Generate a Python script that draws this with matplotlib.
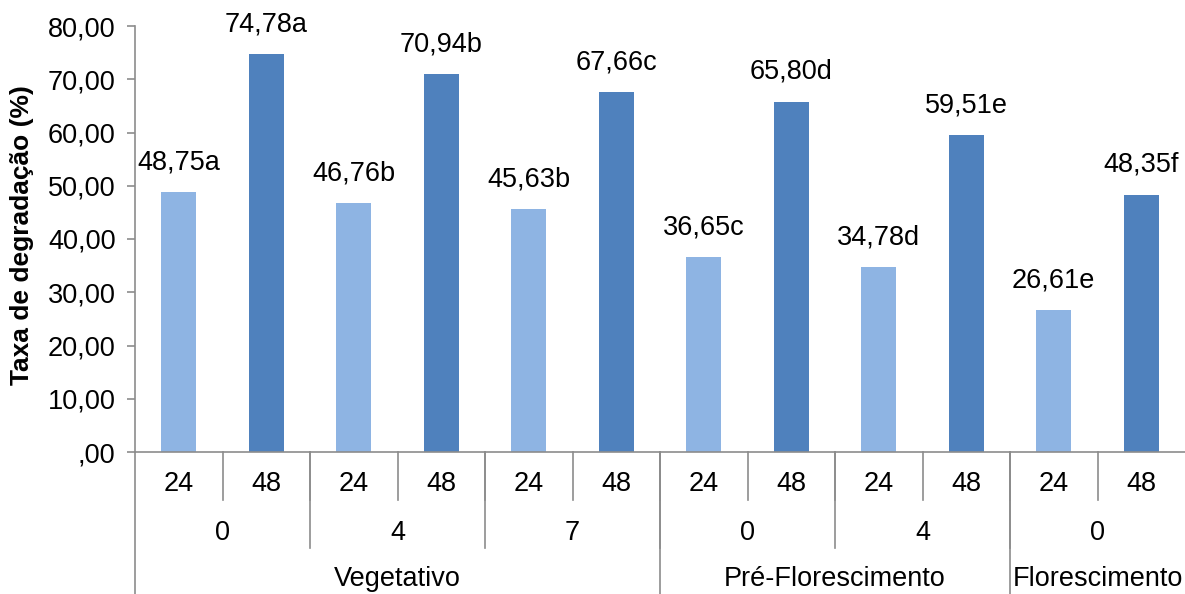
import matplotlib.pyplot as plt
import matplotlib.transforms as mtransforms

plt.rcParams['font.family'] = ['Liberation Sans', 'DejaVu Sans']

# degradation rate (%) by stage / cutting day / incubation hours
estadios = ['Vegetativo', 'Pré-Florescimento', 'Florescimento']
dias = ['0', '4', '7', '0', '4', '0']
dias_por_estadio = [3, 2, 1]
horas = ['24', '48'] * 6
taxas = [48.75, 74.78, 46.76, 70.94, 45.63, 67.66,
         36.65, 65.80, 34.78, 59.51, 26.61, 48.35]
letras = ['a', 'a', 'b', 'b', 'b', 'c', 'c', 'd', 'd', 'e', 'e', 'f']
y_ticks = [0, 10, 20, 30, 40, 50, 60, 70, 80]

cor_24 = '#8EB4E3'
cor_48 = '#4F81BD'
cinza = '#8C8C8C'
fs = 19.5

W, H = 1185, 594
fig = plt.figure(figsize=(W / 100, H / 100), dpi=100)
ax_left, ax_bottom, ax_top = 135, 452, 26
ax = fig.add_axes([ax_left / W, (H - ax_bottom) / H, 1 - ax_left / W,
                   (ax_bottom - ax_top) / H])

n = len(taxas)
xs = list(range(n))
cores = [cor_24 if h == '24' else cor_48 for h in horas]
ax.bar(xs, taxas, width=0.4, color=cores)

for x, v, l in zip(xs, taxas, letras):
    txt = f'{v:.2f}'.replace('.', ',') + l
    ax.annotate(txt, (x, v), xytext=(0, 12), textcoords='offset points',
                ha='center', va='bottom', fontsize=fs)


def fmt(t):
    s = f'{t:.2f}'.replace('.', ',')
    return s[1:] if t == 0 else s


ax.set_xlim(-0.5, n - 0.5)
ax.set_ylim(0, 80)
ax.set_yticks(y_ticks)
ax.set_yticklabels([fmt(t) for t in y_ticks], fontsize=fs)
ax.tick_params(axis='y', direction='out', length=6, color=cinza, width=1.2, pad=8)
ax.set_xticks([])
for s in ['top', 'right']:
    ax.spines[s].set_visible(False)
for s in ['left', 'bottom']:
    ax.spines[s].set_color(cinza)
    ax.spines[s].set_linewidth(1.2)

ax.set_ylabel('Taxa de degradação (%)', fontsize=19, fontweight='bold')
ax.yaxis.set_label_coords(-(ax_left - 34) / (W - ax_left), 0.51)

# multi-level category axis under the bars
trans = mtransforms.blended_transform_factory(ax.transData, ax.transAxes)
altura = ax_bottom - ax_top


def ypos(px):
    return -(px - ax_bottom) / altura


def separador(x, px_fim):
    ax.plot([x, x], [0, ypos(px_fim)], transform=trans, color=cinza,
            lw=1.2, clip_on=False)


for x, h in zip(xs, horas):
    ax.text(x, ypos(484), h, transform=trans, ha='center', va='center', fontsize=fs)
    if x > 0:
        separador(x - 0.5, 500)

inicio = 0
for i, d in enumerate(dias):
    ax.text(inicio + 0.5, ypos(533), d, transform=trans, ha='center',
            va='center', fontsize=fs)
    if inicio > 0:
        separador(inicio - 0.5, 548)
    inicio += 2

inicio = 0
for est, k in zip(estadios, dias_por_estadio):
    fim = inicio + 2 * k
    ax.text((inicio + fim - 1) / 2, ypos(579), est, transform=trans,
            ha='center', va='center', fontsize=fs)
    separador(inicio - 0.5, H)
    inicio = fim

fig.savefig('out.png', dpi=100)
